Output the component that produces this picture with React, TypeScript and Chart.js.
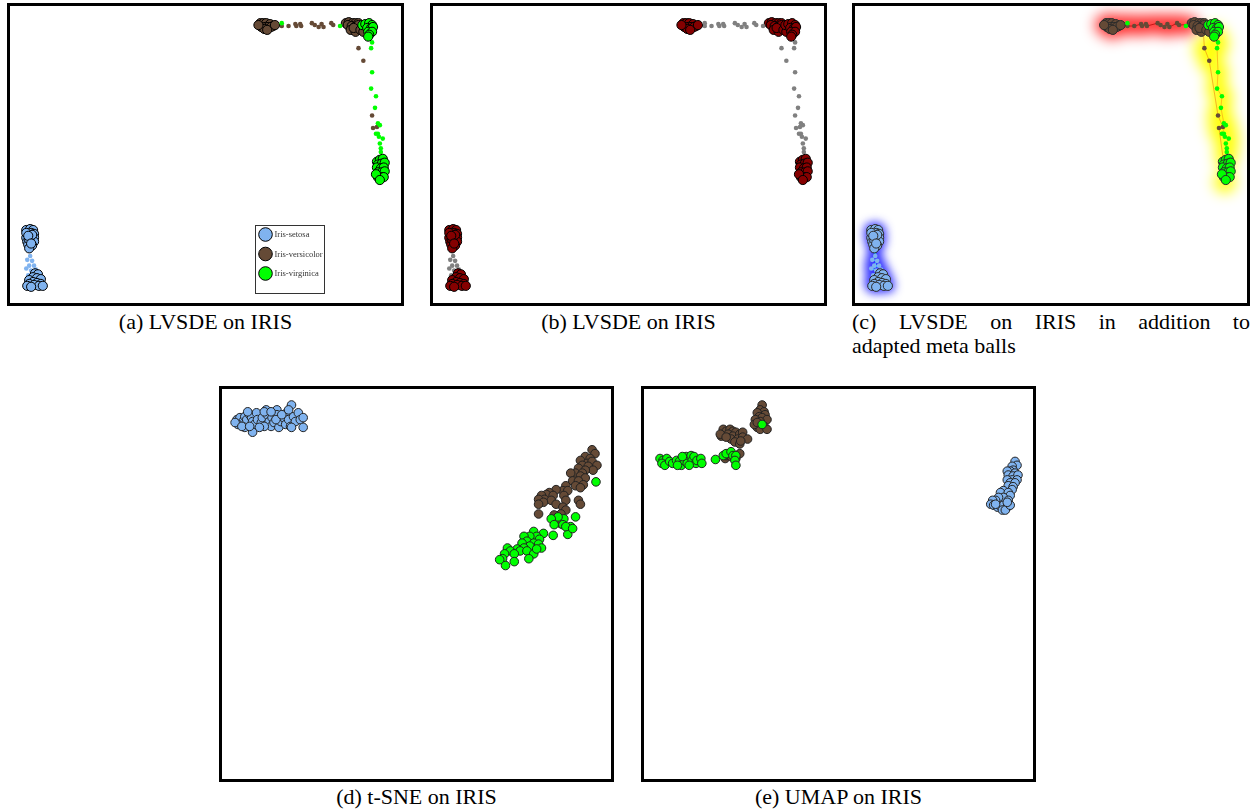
import React, { useEffect, useRef } from "react";
import { Chart, registerables } from "chart.js";

Chart.register(...registerables);

type Pt = { x: number; y: number };
const toPts = (rows: number[][]): Pt[] => rows.map(([x, y]) => ({ x, y }));

// Class names and colours
const CLASS_NAMES = ["Iris-setosa", "Iris-versicolor", "Iris-virginica"];
const SETOSA_COLOR = "#80b3ef";
const VERSICOLOR_COLOR = "#654a36";
const VIRGINICA_COLOR = "#00ff00";
const CLASS_COLORS = [SETOSA_COLOR, VERSICOLOR_COLOR, VIRGINICA_COLOR];

// ---- LVSDE embedding of IRIS (x, y with y growing downward) ----
// "core" points are the dense cluster members, "trail" points are the stretched ones
const setosaUpperCore = [
  [11, 227], [15, 226], [18, 227], [12, 231], [16, 230], [19, 231], [11, 235], [15, 234], [19, 235], [12, 239],
  [16, 238], [19, 239], [13, 242], [17, 243], [14, 246], [11, 230], [14, 237], [17, 232], [13, 233], [16, 241],
];
const setosaTrail = [
  [15, 254], [12, 258], [17, 259], [14, 264], [19, 264], [11, 267], [16, 269], [21, 268], [13, 274], [11, 281],
];
const setosaLowerCore = [
  [20, 272], [23, 273], [18, 276], [22, 277], [26, 278], [14, 279], [18, 281], [22, 282], [26, 283], [14, 283],
  [19, 284], [24, 285], [28, 285], [12, 285], [16, 286],
];
const versicolorLeftCore = [
  [252, 12], [255, 12], [258, 12], [262, 13], [265, 15], [253, 16], [257, 16], [260, 16], [263, 16], [256, 18],
  [259, 19], [250, 14], [267, 14],
];
const versicolorTopTrail = [
  [274, 15], [281, 15], [288, 13], [289, 15], [293, 13], [294, 15], [305, 12], [308, 14], [312, 16], [315, 13],
  [317, 16], [325, 12], [327, 14],
];
const versicolorRightCore = [
  [340, 12], [343, 11], [347, 12], [350, 12], [353, 12], [342, 14], [346, 15], [349, 16], [353, 14], [345, 19],
  [350, 21], [348, 17], [355, 19], [358, 21], [363, 16],
];
const versicolorSideTrail = [[353, 38], [358, 51], [367, 108], [372, 120], [368, 121]];
const virginicaTopTrail = [[274, 12], [334, 15]];
const virginicaTopCore = [
  [357, 14], [360, 13], [364, 12], [367, 14], [362, 17], [366, 17], [368, 16], [363, 21], [367, 21], [364, 24],
  [363, 26],
];
const virginicaSideTrail = [
  [367, 32], [366, 38], [367, 63], [366, 80], [371, 88], [370, 100], [373, 116], [375, 118], [371, 127], [373, 127],
  [374, 130], [378, 132], [375, 137], [376, 142], [376, 146], [374, 177],
];
const virginicaLowerCore = [
  [372, 156], [375, 154], [378, 153], [373, 159], [377, 158], [380, 157], [372, 162], [376, 163], [379, 162], [373, 167],
  [377, 167], [380, 166], [373, 172], [377, 172], [379, 172], [371, 169], [375, 175],
];

// ---- t-SNE embedding ----
const tsneSetosa = [
  [10, 26], [13, 24], [16, 28], [11, 31], [8, 29], [18, 23], [20, 26], [23, 21], [25, 24], [26, 28],
  [30, 19], [28, 31], [31, 26], [35, 29], [36, 24], [40, 16], [41, 21], [43, 28], [45, 33], [46, 24],
  [48, 29], [51, 16], [51, 21], [53, 34], [55, 28], [58, 24], [60, 31], [61, 19], [63, 26], [65, 33],
  [66, 11], [68, 23], [70, 28], [73, 19], [75, 26], [78, 24], [78, 34], [38, 33], [33, 34], [26, 39],
  [18, 34], [15, 33], [23, 33], [50, 26], [56, 21], [63, 16], [21, 18], [38, 18], [45, 18], [66, 34],
];
const tsneVersicolor = [
  [375, 57], [378, 61], [368, 64], [373, 66], [363, 68], [370, 71], [375, 69], [380, 73], [365, 73], [371, 74],
  [376, 78], [361, 76], [368, 78], [358, 81], [365, 81], [353, 81], [363, 84], [368, 86], [355, 89], [361, 89],
  [366, 93], [348, 94], [358, 94], [363, 96], [345, 99], [350, 99], [338, 98], [331, 101], [328, 103], [335, 104],
  [323, 104], [326, 108], [320, 108], [333, 109], [325, 111], [320, 113], [346, 104], [348, 109], [338, 113], [345, 116],
  [361, 109], [363, 113], [348, 119], [343, 123], [336, 124], [320, 123], [343, 133],
];
const tsneVirginica = [
  [379, 90], [358, 126], [353, 136], [350, 144], [335, 145], [346, 128], [340, 126], [333, 128], [336, 134], [345, 134],
  [348, 136], [355, 138], [325, 143], [315, 141], [318, 146], [311, 146], [305, 146], [321, 149], [308, 151], [303, 153],
  [315, 153], [320, 154], [311, 156], [305, 158], [298, 159], [288, 158], [291, 161], [285, 164], [301, 161], [308, 161],
  [315, 164], [295, 164], [310, 169], [283, 169], [280, 170], [286, 176], [295, 172], [323, 158], [318, 159],
];

// ---- UMAP embedding ----
const umapSetosa = [
  [376, 69], [378, 73], [373, 74], [374, 78], [371, 79], [368, 79], [376, 81], [369, 83], [374, 84], [379, 83],
  [373, 88], [378, 88], [368, 88], [371, 91], [376, 91], [369, 94], [374, 95], [373, 98], [364, 99], [361, 101],
  [369, 101], [371, 104], [364, 106], [359, 106], [356, 109], [353, 109], [351, 113], [354, 114], [358, 116], [361, 115],
  [364, 114], [368, 116], [363, 119], [366, 119], [369, 109], [371, 114], [368, 111], [356, 113],
];
const umapVersicolor = [
  [116, 11], [114, 16], [118, 18], [111, 19], [119, 21], [113, 23], [116, 24], [109, 26], [121, 26], [114, 28],
  [111, 34], [118, 33], [114, 36], [121, 36], [108, 31], [111, 29], [76, 36], [79, 38], [83, 36], [86, 38],
  [89, 39], [81, 41], [86, 43], [93, 41], [96, 39], [74, 43], [84, 46], [91, 46], [96, 44], [101, 46],
  [88, 49], [93, 51], [73, 41], [79, 44], [94, 48], [78, 66], [79, 63], [84, 64], [89, 66], [93, 61],
  [78, 62],
];
const umapVirginica = [
  [11, 66], [14, 68], [18, 66], [13, 71], [16, 73], [21, 69], [24, 71], [28, 68], [31, 69], [33, 73],
  [36, 68], [38, 64], [39, 71], [43, 63], [44, 68], [46, 64], [48, 71], [49, 68], [53, 66], [54, 71],
  [41, 73], [29, 73], [34, 64], [68, 67], [76, 63], [79, 61], [84, 59], [86, 63], [89, 63], [88, 68],
  [89, 73], [116, 31],
];

// Meta ball groups for the adapted meta ball view
const redBand = [...versicolorLeftCore, ...versicolorTopTrail, ...virginicaTopTrail, [338, 14]];
const yellowBand = [...versicolorSideTrail, ...virginicaSideTrail, [364, 26], [375, 152]];
const blueBand = [...setosaUpperCore, ...setosaTrail, ...setosaLowerCore];

const LV_W = 391;
const LV_H = 297;
const SQ_W = 389;
const SQ_H = 390;

type Mode = "classes" | "mono" | "meta";

function pointSet(rows: number[][], color: string, radius: number, border: string, bw: number, order: number) {
  return {
    data: toPts(rows),
    backgroundColor: color,
    borderColor: border,
    borderWidth: bw,
    pointRadius: radius,
    pointHoverRadius: radius,
    order,
  };
}

function lineSet(rows: number[][], color: string, order: number) {
  return {
    data: toPts(rows),
    showLine: true,
    borderColor: color,
    borderWidth: 1,
    pointRadius: 0,
    backgroundColor: color,
    order,
  };
}

function lvsdeDatasets(mode: Mode) {
  const big = 4.6;
  const small = 2.3;
  const coreColor = (c: string) => (mode === "mono" ? "#850000" : c);
  const trailColor = (c: string) => (mode === "mono" ? "#808080" : c);
  const edge = mode === "meta" ? "#2b2b2b" : "#000000";
  const sets: any[] = [
    pointSet(virginicaTopCore, coreColor(VIRGINICA_COLOR), big, edge, 1, 0),
    pointSet(virginicaLowerCore, coreColor(VIRGINICA_COLOR), big, edge, 1, 0),
    pointSet(virginicaTopTrail, trailColor(VIRGINICA_COLOR), small, "rgba(0,0,0,0)", 0, 1),
    pointSet(virginicaSideTrail, trailColor(VIRGINICA_COLOR), small, "rgba(0,0,0,0)", 0, 1),
    pointSet(versicolorLeftCore, coreColor(VERSICOLOR_COLOR), big, edge, 1, 2),
    pointSet(versicolorRightCore, coreColor(VERSICOLOR_COLOR), big, edge, 1, 2),
    pointSet(versicolorTopTrail, trailColor(VERSICOLOR_COLOR), small, "rgba(0,0,0,0)", 0, 3),
    pointSet(versicolorSideTrail, trailColor(VERSICOLOR_COLOR), small, "rgba(0,0,0,0)", 0, 3),
    pointSet(setosaUpperCore, coreColor(SETOSA_COLOR), big, edge, 1, 4),
    pointSet(setosaLowerCore, coreColor(SETOSA_COLOR), big, edge, 1, 4),
    pointSet(setosaTrail, trailColor(SETOSA_COLOR), small, "rgba(0,0,0,0)", 0, 5),
  ];
  if (mode === "meta") {
    sets.push(lineSet([[262, 14], ...versicolorTopTrail, [342, 13]], "#c81414", 8));
    sets.push(lineSet([[352, 22], ...versicolorSideTrail, [373, 158]], "rgba(240,150,20,0.7)", 8));
    sets.push(lineSet([[360, 22], ...virginicaSideTrail.slice(0, 15), [374, 156]], "rgba(250,170,20,0.7)", 8));
    sets.push(lineSet([[15, 244], ...setosaTrail, [19, 282]], "#10d0ff", 8));
  }
  return sets;
}

// Soft glowing blobs drawn under the points
const metaBallPlugin = {
  id: "metaBalls",
  beforeDatasetsDraw(chart: any) {
    const { ctx, width, height } = chart;
    const xs = chart.scales.x;
    const ys = chart.scales.y;
    const groups = [
      { rows: redBand, color: "#ff0000", r: 9, alpha: 0.85, blur: 7 },
      { rows: yellowBand, color: "#ffff00", r: 11, alpha: 0.95, blur: 7 },
      { rows: blueBand, color: "#1a1aff", r: 7, alpha: 0.9, blur: 5 },
    ];
    for (const g of groups) {
      const off = document.createElement("canvas");
      off.width = width;
      off.height = height;
      const o = off.getContext("2d")!;
      o.fillStyle = g.color;
      for (const [x, y] of g.rows) {
        o.beginPath();
        o.arc(xs.getPixelForValue(x), ys.getPixelForValue(y), g.r, 0, Math.PI * 2);
        o.fill();
      }
      ctx.save();
      ctx.filter = `blur(${g.blur}px)`;
      ctx.globalAlpha = g.alpha;
      ctx.drawImage(off, 0, 0);
      ctx.restore();
    }
  },
};

// Class legend drawn inside panel (a)
const classLegend = {
  id: "classLegend",
  afterDraw(chart: any) {
    const { ctx } = chart;
    const bx = 245.5;
    const by = 219.5;
    ctx.save();
    ctx.fillStyle = "#ffffff";
    ctx.strokeStyle = "#333333";
    ctx.lineWidth = 1;
    ctx.fillRect(bx, by, 69, 68);
    ctx.strokeRect(bx, by, 69, 68);
    ctx.font = "8.5px 'Liberation Serif', serif";
    ctx.textBaseline = "middle";
    CLASS_NAMES.forEach((name, i) => {
      const cy = by + 9 + i * 19.5;
      ctx.beginPath();
      ctx.arc(bx + 10, cy, 6.8, 0, Math.PI * 2);
      ctx.fillStyle = CLASS_COLORS[i];
      ctx.fill();
      ctx.strokeStyle = "#000";
      ctx.stroke();
      ctx.fillStyle = "#333";
      ctx.fillText(name, bx + 19, cy + 0.5);
    });
    ctx.restore();
  },
};

function makeConfig(datasets: any[], w: number, h: number, plugins: any[]) {
  return {
    type: "scatter" as const,
    data: { datasets },
    options: {
      animation: false as const,
      responsive: false,
      events: [],
      layout: { padding: 0 },
      plugins: { legend: { display: false }, tooltip: { enabled: false } },
      scales: {
        x: { type: "linear" as const, display: false, min: 0, max: w },
        y: { type: "linear" as const, display: false, min: 0, max: h, reverse: true },
      },
    },
    plugins,
  };
}

function Panel(props: { left: number; top: number; w: number; h: number; config: () => any }) {
  const ref = useRef<HTMLCanvasElement>(null);
  useEffect(() => {
    const chart = new Chart(ref.current!, props.config());
    return () => chart.destroy();
  }, []);
  return (
    <div
      style={{
        position: "absolute",
        left: props.left,
        top: props.top,
        width: props.w,
        height: props.h,
        border: "3px solid #000",
        background: "#fff",
      }}
    >
      <canvas ref={ref} width={props.w} height={props.h} style={{ display: "block", width: props.w, height: props.h }} />
    </div>
  );
}

const captionFont: React.CSSProperties = {
  position: "absolute",
  fontFamily: "'Liberation Serif', 'DejaVu Serif', serif",
  fontSize: 22,
  lineHeight: "24px",
  color: "#000",
  whiteSpace: "nowrap",
};

function Caption(props: { cx: number; cy: number; text: string }) {
  return (
    <div style={{ ...captionFont, left: props.cx - 200, width: 400, top: props.cy - 12, textAlign: "center" }}>
      {props.text}
    </div>
  );
}

export default function App() {
  return (
    <div style={{ position: "absolute", left: 0, top: 0, width: 1258, height: 810, background: "#fff", overflow: "hidden" }}>
      <Panel left={7} top={3} w={LV_W} h={LV_H} config={() => makeConfig(lvsdeDatasets("classes"), LV_W, LV_H, [classLegend])} />
      <Panel left={430} top={3} w={LV_W} h={LV_H} config={() => makeConfig(lvsdeDatasets("mono"), LV_W, LV_H, [])} />
      <Panel left={852} top={3} w={LV_W + 1} h={LV_H} config={() => makeConfig(lvsdeDatasets("meta"), LV_W, LV_H, [metaBallPlugin])} />
      <Panel
        left={219}
        top={386}
        w={SQ_W}
        h={SQ_H}
        config={() =>
          makeConfig(
            [
              pointSet(tsneVirginica, VIRGINICA_COLOR, 4.3, "#222", 1, 0),
              pointSet(tsneVersicolor, VERSICOLOR_COLOR, 4.3, "#222", 1, 1),
              pointSet(tsneSetosa, SETOSA_COLOR, 4.3, "#222", 1, 2),
            ],
            SQ_W,
            SQ_H,
            []
          )
        }
      />
      <Panel
        left={641}
        top={386}
        w={SQ_W}
        h={SQ_H}
        config={() =>
          makeConfig(
            [
              pointSet(umapVirginica, VIRGINICA_COLOR, 4.3, "#222", 1, 0),
              pointSet(umapVersicolor, VERSICOLOR_COLOR, 4.3, "#222", 1, 1),
              pointSet(umapSetosa, SETOSA_COLOR, 4.3, "#222", 1, 2),
            ],
            SQ_W,
            SQ_H,
            []
          )
        }
      />
      <Caption cx={205.5} cy={322} text="(a) LVSDE on IRIS" />
      <Caption cx={628.5} cy={322} text="(b) LVSDE on IRIS" />
      <div style={{ ...captionFont, left: 852, width: 398, top: 310, textAlign: "justify", textAlignLast: "justify" } as React.CSSProperties}>
        (c) LVSDE on IRIS in addition to
      </div>
      <div style={{ ...captionFont, left: 852, top: 334 }}>adapted meta balls</div>
      <Caption cx={416.5} cy={797} text="(d) t-SNE on IRIS" />
      <Caption cx={838.5} cy={797} text="(e) UMAP on IRIS" />
    </div>
  );
}
